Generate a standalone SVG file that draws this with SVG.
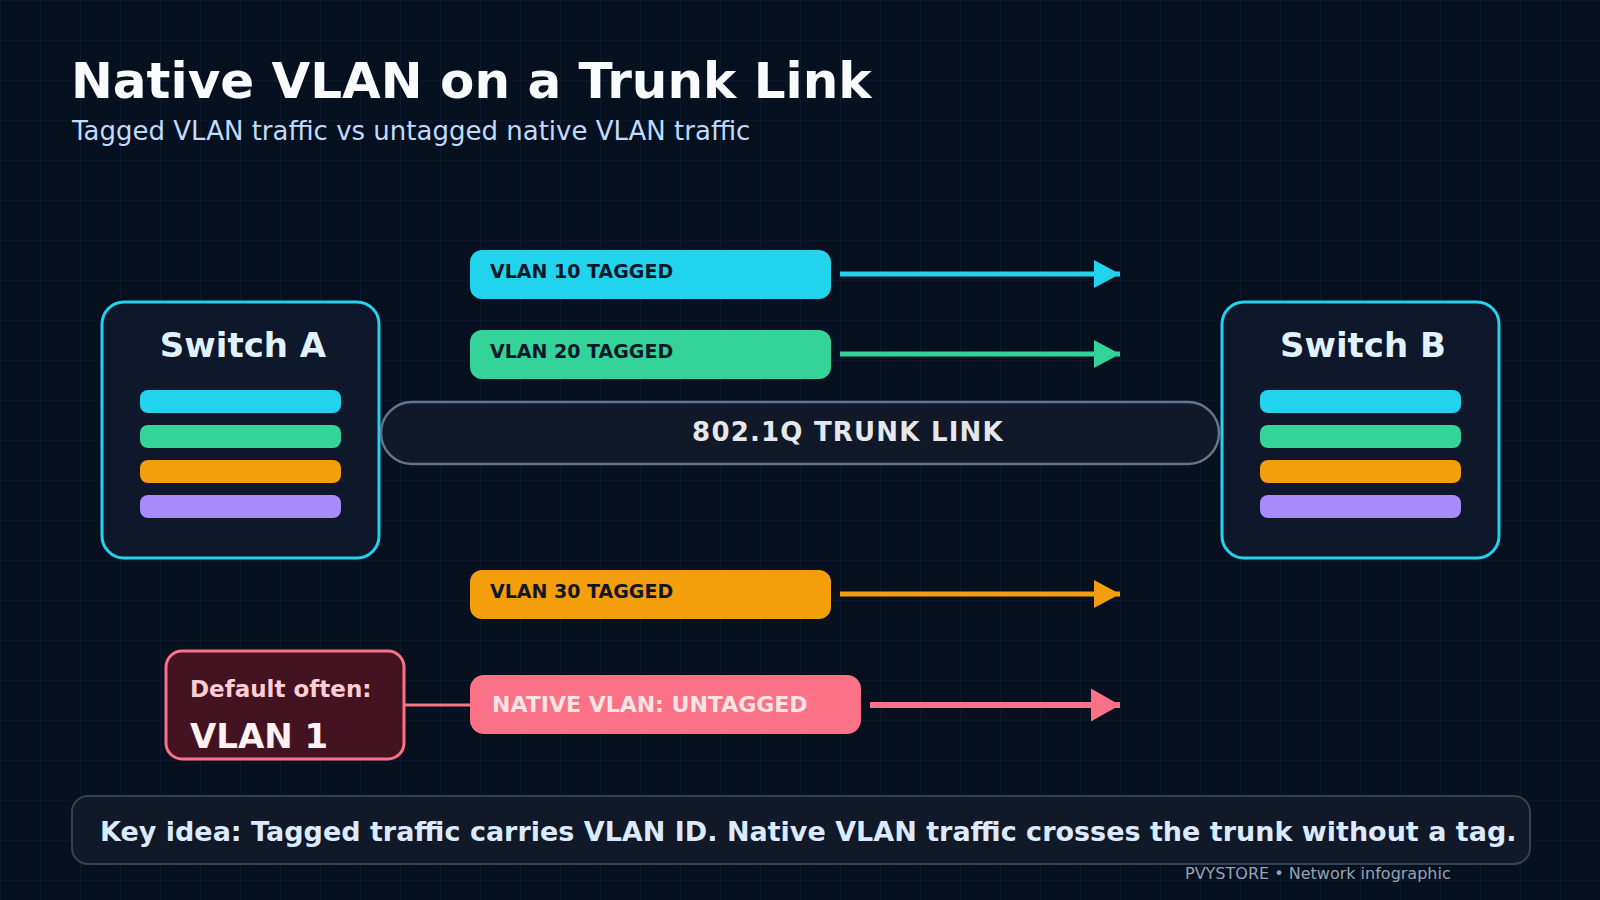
<svg xmlns="http://www.w3.org/2000/svg" width="1600" height="900" viewBox="0 0 1600 900">
  <style>
    text { font-family: "DejaVu Sans", "Liberation Sans", sans-serif; }
    .b { font-weight: bold; }
    .switch { fill: #0f172a; stroke: #22d3ee; stroke-width: 3; }
    .swtitle { font-size: 34px; fill: #e0f2fe; text-anchor: middle; font-weight: bold; }
    .tag { font-size: 19px; fill: #0f172a; font-weight: bold; }
    .cyan { fill: #22d3ee; }
    .green { fill: #34d399; }
    .orange { fill: #f59e0b; }
    .purple { fill: #a78bfa; }
    .pink { fill: #fb7185; }
  </style>
  <defs>
    <pattern id="grid" width="40" height="40" patternUnits="userSpaceOnUse">
      <path d="M40 0 L0 0 L0 40" fill="none" stroke="#10203a" stroke-width="1.2"/>
    </pattern>
    <marker id="arrCyan" markerUnits="userSpaceOnUse" markerWidth="26" markerHeight="28" refX="26" refY="14" orient="auto">
      <path d="M0,0 L26,14 L0,28 Z" fill="#22d3ee"/>
    </marker>
    <marker id="arrGreen" markerUnits="userSpaceOnUse" markerWidth="26" markerHeight="28" refX="26" refY="14" orient="auto">
      <path d="M0,0 L26,14 L0,28 Z" fill="#34d399"/>
    </marker>
    <marker id="arrOrange" markerUnits="userSpaceOnUse" markerWidth="26" markerHeight="28" refX="26" refY="14" orient="auto">
      <path d="M0,0 L26,14 L0,28 Z" fill="#f59e0b"/>
    </marker>
    <marker id="arrPink" markerUnits="userSpaceOnUse" markerWidth="29" markerHeight="33" refX="29" refY="16.5" orient="auto">
      <path d="M0,0 L29,16.5 L0,33 Z" fill="#fb7185"/>
    </marker>
  </defs>

  <rect width="1600" height="900" fill="#06101f"/>
  <rect width="1600" height="900" fill="url(#grid)"/>

  <text x="71" y="98" class="b" font-size="50" fill="#f8fafc">Native VLAN on a Trunk Link</text>
  <text x="72" y="140" font-size="26" fill="#bfdbfe">Tagged VLAN traffic vs untagged native VLAN traffic</text>

  <g id="connectors">
    <line x1="840" y1="274" x2="1120" y2="274" stroke="#22d3ee" stroke-width="5" marker-end="url(#arrCyan)"/>
    <line x1="840" y1="354" x2="1120" y2="354" stroke="#34d399" stroke-width="5" marker-end="url(#arrGreen)"/>
    <line x1="840" y1="594" x2="1120" y2="594" stroke="#f59e0b" stroke-width="5" marker-end="url(#arrOrange)"/>
    <line x1="870" y1="705" x2="1120" y2="705" stroke="#fb7185" stroke-width="6" marker-end="url(#arrPink)"/>
    <line x1="404" y1="705" x2="470" y2="705" stroke="#fb7185" stroke-width="3"/>
  </g>

  <g id="switch-a">
    <rect x="102" y="302" width="277" height="256" rx="22" class="switch"/>
    <text x="243" y="357" class="swtitle">Switch A</text>
    <rect x="140" y="390" width="201" height="23" rx="8" class="cyan"/>
    <rect x="140" y="425" width="201" height="23" rx="8" class="green"/>
    <rect x="140" y="460" width="201" height="23" rx="8" class="orange"/>
    <rect x="140" y="495" width="201" height="23" rx="8" class="purple"/>
  </g>

  <g id="switch-b">
    <rect x="1222" y="302" width="277" height="256" rx="22" class="switch"/>
    <text x="1363" y="357" class="swtitle">Switch B</text>
    <rect x="1260" y="390" width="201" height="23" rx="8" class="cyan"/>
    <rect x="1260" y="425" width="201" height="23" rx="8" class="green"/>
    <rect x="1260" y="460" width="201" height="23" rx="8" class="orange"/>
    <rect x="1260" y="495" width="201" height="23" rx="8" class="purple"/>
  </g>

  <g id="trunk">
    <rect x="381" y="402" width="838" height="62" rx="31" fill="#111827" stroke="#64748b" stroke-width="2.5"/>
    <text x="848" y="441" class="b" font-size="26" letter-spacing="1.2" fill="#e5e7eb" text-anchor="middle">802.1Q TRUNK LINK</text>
  </g>

  <g id="vlan10">
    <rect x="470" y="250" width="361" height="49" rx="12" class="cyan"/>
    <text x="490" y="278" class="tag">VLAN 10 TAGGED</text>
  </g>
  <g id="vlan20">
    <rect x="470" y="330" width="361" height="49" rx="12" class="green"/>
    <text x="490" y="358" class="tag">VLAN 20 TAGGED</text>
  </g>
  <g id="vlan30">
    <rect x="470" y="570" width="361" height="49" rx="12" class="orange"/>
    <text x="490" y="598" class="tag">VLAN 30 TAGGED</text>
  </g>

  <g id="native">
    <rect x="470" y="675" width="391" height="59" rx="14" class="pink"/>
    <text x="492" y="712" class="b" font-size="22" fill="#ffe4e6">NATIVE VLAN: UNTAGGED</text>
  </g>

  <g id="default-vlan">
    <rect x="166" y="651" width="238" height="108" rx="16" fill="#431321" stroke="#fb7185" stroke-width="3"/>
    <text x="190" y="697" class="b" font-size="23" fill="#fecdd3">Default often:</text>
    <text x="190" y="748" class="b" font-size="34" fill="#fff1f2">VLAN 1</text>
  </g>

  <g id="key-idea">
    <rect x="72" y="796" width="1458" height="68" rx="16" fill="#111827" stroke="#334155" stroke-width="2"/>
    <text x="100" y="841" class="b" font-size="27" fill="#dbeafe">Key idea: Tagged traffic carries VLAN ID. Native VLAN traffic crosses the trunk without a tag.</text>
  </g>

  <text x="1185" y="879" font-size="16" fill="#94a3b8">PVYSTORE • Network infographic</text>
</svg>
